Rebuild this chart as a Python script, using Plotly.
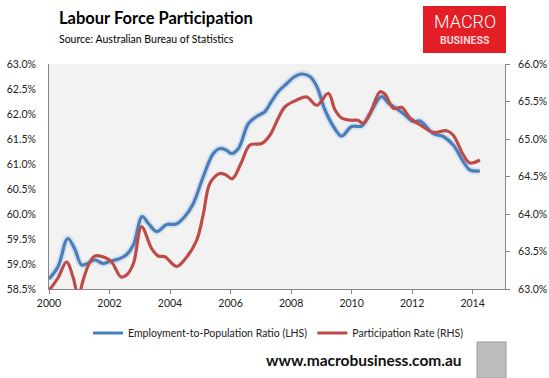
import plotly.graph_objects as go

# ---- data ----
emp_years = [2000.0, 2000.3, 2000.62, 2000.85, 2001.08, 2001.3, 2001.52, 2001.78, 2002.05, 2002.3,
             2002.55, 2002.79, 2003.08, 2003.3, 2003.56, 2003.89, 2004.2, 2004.49, 2004.77, 2005.1,
             2005.43, 2005.65, 2005.85, 2006.04, 2006.26, 2006.59, 2006.86, 2007.14, 2007.35, 2007.58,
             2007.86, 2008.1, 2008.35, 2008.62, 2008.85, 2009.12, 2009.4, 2009.67, 2010.0, 2010.33,
             2010.61, 2010.99, 2011.21, 2011.38, 2011.71, 2012.04, 2012.26, 2012.7, 2013.03, 2013.36,
             2013.69, 2013.91, 2014.24]
emp_ratio = [58.70, 58.95, 59.51, 59.30, 58.98, 59.02, 59.08, 59.01, 59.06, 59.10,
             59.18, 59.38, 59.95, 59.80, 59.65, 59.79, 59.80, 59.95, 60.21, 60.75,
             61.21, 61.31, 61.28, 61.21, 61.31, 61.81, 61.95, 62.05, 62.25, 62.45,
             62.61, 62.74, 62.80, 62.75, 62.55, 62.08, 61.75, 61.56, 61.75, 61.76,
             62.01, 62.35, 62.22, 62.15, 62.01, 61.85, 61.86, 61.61, 61.55, 61.38,
             61.05, 60.88, 60.86]

part_years = [2000.0, 2000.3, 2000.58, 2000.8, 2000.97, 2001.13, 2001.35, 2001.52, 2001.85, 2002.07,
              2002.38, 2002.57, 2002.79, 2003.06, 2003.39, 2003.61, 2003.83, 2004.22, 2004.5, 2004.88,
              2005.1, 2005.32, 2005.65, 2005.85, 2006.06, 2006.35, 2006.64, 2007.03, 2007.3, 2007.58,
              2007.8, 2008.19, 2008.52, 2008.85, 2009.23, 2009.45, 2009.67, 2010.0, 2010.2, 2010.39,
              2010.61, 2010.94, 2011.1, 2011.38, 2011.66, 2011.93, 2012.26, 2012.7, 2013.14, 2013.36,
              2013.69, 2013.91, 2014.24]
part_rate = [62.98, 63.15, 63.36, 63.15, 62.90, 63.12, 63.36, 63.44, 63.42, 63.36,
             63.16, 63.19, 63.34, 63.83, 63.54, 63.44, 63.43, 63.30, 63.40, 63.65,
             64.00, 64.41, 64.54, 64.52, 64.47, 64.68, 64.92, 64.94, 65.05, 65.28,
             65.43, 65.52, 65.56, 65.45, 65.61, 65.39, 65.28, 65.25, 65.25, 65.21,
             65.34, 65.63, 65.60, 65.41, 65.42, 65.28, 65.19, 65.09, 65.11, 65.05,
             64.79, 64.68, 64.72]

x_ticks = [2000, 2002, 2004, 2006, 2008, 2010, 2012, 2014]
x_tick_labels = ["2000", "2002", "2004", "2006", "2008", "2010", "2012", "2014"]

BLUE = "#4a7ebb"
RED = "#be4b48"
AXIS = "#868686"
FONT = "Lato"

W, H = 549, 378
L, R, T, B = 49, 44, 64, 89
PW, PH = W - L - R, H - T - B


def px(x):
    return (x - L) / PW


def py(y):
    return (H - B - y) / PH


fig = go.Figure()

# soft glow under the blue line
fig.add_trace(go.Scatter(x=emp_years, y=emp_ratio, mode="lines", showlegend=False, hoverinfo="skip",
                         line=dict(color="rgba(110,160,220,0.2)", width=7, shape="spline", smoothing=1)))
fig.add_trace(go.Scatter(x=emp_years, y=emp_ratio, mode="lines",
                         name="Employment-to-Population Ratio (LHS)",
                         line=dict(color=BLUE, width=3.2, shape="spline", smoothing=1)))
fig.add_trace(go.Scatter(x=part_years, y=part_rate, mode="lines", yaxis="y2",
                         name="Participation Rate (RHS)",
                         line=dict(color=RED, width=3.2, shape="spline", smoothing=1)))

tickfont = dict(family=FONT, size=10.5, color="#222")

fig.update_layout(
    width=W, height=H,
    margin=dict(l=L, r=R, t=T, b=B, pad=0, autoexpand=False),
    paper_bgcolor="white",
    plot_bgcolor="#f2f2f2",
    font=dict(family=FONT, size=11, color="#222"),
    xaxis=dict(range=[2000, 2015.07], tickvals=x_ticks, ticktext=x_tick_labels, automargin=False,
               showgrid=False, zeroline=False, showline=True, linecolor=AXIS, linewidth=1,
               ticks="outside", ticklen=4, tickcolor=AXIS, tickfont=tickfont),
    yaxis=dict(range=[58.5, 63.0], dtick=0.5, tickformat=".1f", ticksuffix="%", automargin=False,
               showgrid=False, zeroline=False, showline=True, linecolor=AXIS, linewidth=1,
               ticks="", ticklabelstandoff=10, tickfont=tickfont),
    yaxis2=dict(range=[63.0, 66.0], dtick=0.5, tickformat=".1f", ticksuffix="%", automargin=False,
                overlaying="y", side="right",
                showgrid=False, zeroline=False, showline=True, linecolor=AXIS, linewidth=1,
                ticks="outside", ticklen=4, tickcolor=AXIS, ticklabelstandoff=6, tickfont=tickfont),
    legend=dict(orientation="h", x=px(88), y=py(333), xanchor="left", yanchor="middle",
                font=dict(family=FONT, size=10.5, color="#222"), bgcolor="rgba(0,0,0,0)",
                itemwidth=30, tracegroupgap=0),
    showlegend=True,
)

# title texts
fig.add_annotation(text="<b>Labour Force Participation</b>", xref="paper", yref="paper",
                   x=px(57), y=py(18), xanchor="left", yanchor="middle", showarrow=False,
                   font=dict(family=FONT, size=16.5, color="#000"))
fig.add_annotation(text="Source: Australian Bureau of Statistics", xref="paper", yref="paper",
                   x=px(57), y=py(39), xanchor="left", yanchor="middle", showarrow=False,
                   font=dict(family=FONT, size=10.5, color="#000"))

# logo
fig.add_shape(type="rect", xref="paper", yref="paper", x0=px(423), x1=px(506), y0=py(53), y1=py(6),
              fillcolor="#e31e24", line=dict(width=0), layer="above")
fig.add_annotation(text="MACRO", xref="paper", yref="paper", x=px(464.5), y=py(21),
                   xanchor="center", yanchor="middle", showarrow=False,
                   font=dict(family="Roboto", size=18, color="white", weight=300))
fig.add_annotation(text="<b>BUSINESS</b>", xref="paper", yref="paper", x=px(464.5), y=py(40.5),
                   xanchor="center", yanchor="middle", showarrow=False,
                   font=dict(family="Roboto", size=10.5, color="#ffd6d6"))

# footer
fig.add_annotation(text="<b>www.macrobusiness.com.au</b>", xref="paper", yref="paper",
                   x=px(363.5), y=py(360), xanchor="center", yanchor="middle", showarrow=False,
                   font=dict(family=FONT, size=15.5, color="#111"))
fig.add_shape(type="rect", xref="paper", yref="paper", x0=px(477), x1=px(506), y0=py(378), y1=py(342),
              fillcolor="#bdbdbd", line=dict(color="#9a9a9a", width=1), layer="above")

fig.write_html("out.html", config={"displayModeBar": False},
               post_script="document.body.style.margin='0px';")
